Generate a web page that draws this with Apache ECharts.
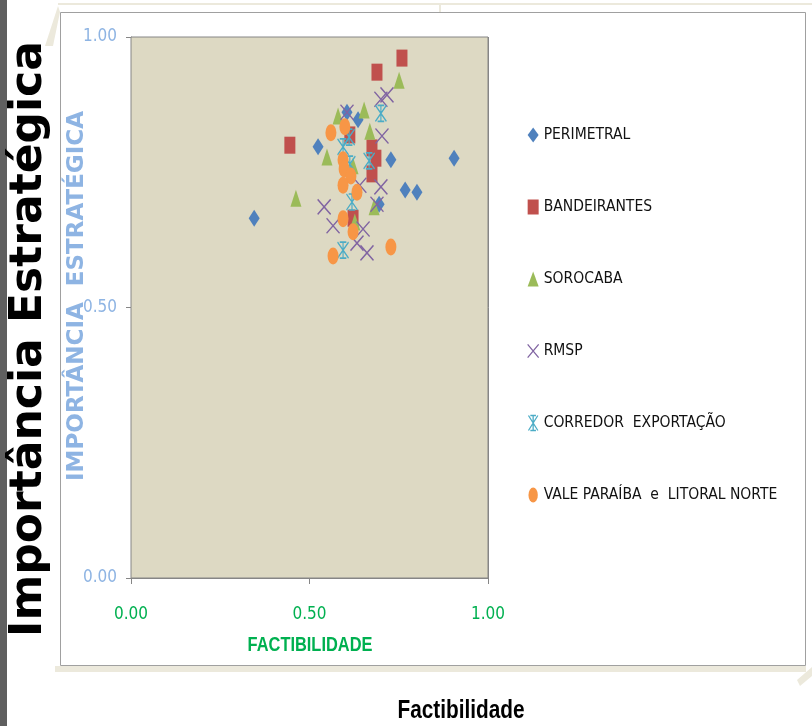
<!DOCTYPE html>
<html>
<head>
<meta charset="utf-8">
<script src="https://cdn.jsdelivr.net/npm/echarts@6/dist/echarts.min.js"></script>
<style>
html,body{margin:0;padding:0;background:#fff;}
#chart{width:812px;height:726px;}
</style>
</head>
<body>
<div id="chart"></div>
<script>
// ---- data (x = Factibilidade, y = Importância Estratégica) ----
const seriesNames = ['PERIMETRAL', 'BANDEIRANTES', 'SOROCABA', 'RMSP', 'CORREDOR  EXPORTAÇÃO', 'VALE PARAÍBA  e  LITORAL NORTE'];
const perimetral = [[0.345,0.665],[0.524,0.797],[0.605,0.861],[0.636,0.847],[0.728,0.773],[0.768,0.717],[0.801,0.713],[0.905,0.776],[0.695,0.691]];
const bandeirantes = [[0.445,0.800],[0.689,0.935],[0.759,0.961],[0.613,0.819],[0.675,0.795],[0.686,0.776],[0.675,0.747],[0.622,0.665]];
const sorocaba = [[0.462,0.702],[0.751,0.920],[0.580,0.854],[0.653,0.865],[0.669,0.826],[0.549,0.778],[0.622,0.762],[0.681,0.686],[0.627,0.658]];
const rmsp = [[0.605,0.861],[0.700,0.885],[0.717,0.893],[0.703,0.817],[0.700,0.723],[0.641,0.726],[0.541,0.686],[0.566,0.651],[0.650,0.645],[0.633,0.619],[0.661,0.601],[0.689,0.691]];
const corredor = [[0.700,0.859],[0.611,0.815],[0.594,0.797],[0.667,0.771],[0.613,0.765],[0.619,0.695],[0.594,0.606]];
const vale = [[0.560,0.823],[0.599,0.834],[0.594,0.773],[0.597,0.756],[0.616,0.743],[0.594,0.726],[0.633,0.713],[0.594,0.664],[0.622,0.640],[0.566,0.595],[0.728,0.612]];
const axisTicks = [0, 0.5, 1];

const colors = ['#4f81bd', '#c0504d', '#9bbb59', '#8064a2', '#4bacc6', '#f79646'];
const symX = 'path://M0,0L10,12M10,0L0,12';
const symStar = 'path://M0,0L10,16M10,0L0,16M5,0L5,16M2,0L8,0M2,16L8,16';
const symEllipse = 'path://M0,8A5,8 0 1,1 10,8A5,8 0 1,1 0,8Z';
const condFont = '"Liberation Sans Narrow", "DejaVu Sans Condensed", "Liberation Sans", sans-serif';

const chart = echarts.init(document.getElementById('chart'), null, {renderer: 'canvas'});

function filled(name, data, color, symbol, size) {
  return {
    name: name, type: 'scatter', data: data, symbol: symbol, symbolSize: size,
    itemStyle: {color: color, opacity: 1}, emphasis: {disabled: true}, animation: false
  };
}
function stroked(name, data, color, symbol, size) {
  return {
    name: name, type: 'scatter', data: data, symbol: symbol, symbolSize: size,
    itemStyle: {color: 'rgba(0,0,0,0)', borderColor: color, borderWidth: 1.4, opacity: 1},
    emphasis: {disabled: true}, animation: false
  };
}

const option = {
  animation: false,
  backgroundColor: '#ffffff',
  graphic: [
    {type: 'rect', shape: {x: 0, y: 0, width: 7, height: 726}, style: {fill: '#5f5f5f'}, z: 0},
    {type: 'line', shape: {x1: 58, y1: 4, x2: 812, y2: 4}, style: {stroke: '#ece9dc', lineWidth: 2}, z: 0},
    {type: 'line', shape: {x1: 440, y1: 4, x2: 440, y2: 12}, style: {stroke: '#ece9dc', lineWidth: 2}, z: 0},
    {type: 'polygon', shape: {points: [[45, 46], [58, 6], [60, 12], [53, 46]]}, style: {fill: '#ece9dc'}, z: 0},
    {type: 'rect', shape: {x: 55, y: 666, width: 751, height: 6}, style: {fill: '#ece9dc'}, z: 0},
    {type: 'polygon', shape: {points: [[797, 680], [812, 667], [812, 676], [800, 686]]}, style: {fill: '#ece9dc'}, z: 0},
    {type: 'rect', shape: {x: 60.5, y: 12.5, width: 745, height: 653}, style: {fill: '#ffffff', stroke: '#a0a0a0', lineWidth: 1}, z: 0},
    {type: 'text', x: 30, y: 339, rotation: Math.PI / 2,
      style: {text: 'Importância Estratégica', font: 'bold 44px "DejaVu Sans"', fill: '#000000', align: 'center', verticalAlign: 'middle'}, z: 5},
    {type: 'text', x: 77, y: 296, rotation: Math.PI / 2,
      style: {text: 'IMPORTÂNCIA  ESTRATÉGICA', font: 'bold 23px "DejaVu Sans"', fill: '#8eb4e3', align: 'center', verticalAlign: 'middle'}, z: 5},
    {type: 'text', x: 310, y: 645, scaleX: 0.82,
      style: {text: 'FACTIBILIDADE', font: 'bold 20px "Liberation Sans"', fill: '#00b050', align: 'center', verticalAlign: 'middle'}, z: 5},
    {type: 'text', x: 461, y: 711, scaleX: 0.8,
      style: {text: 'Factibilidade', font: 'bold 26px "Liberation Sans"', fill: '#000000', align: 'center', verticalAlign: 'middle'}, z: 5}
  ],
  grid: {
    left: 131, right: 324, top: 37, bottom: 148,
    show: true, backgroundColor: '#ddd9c3', borderColor: '#868686', borderWidth: 1, z: 2
  },
  xAxis: {
    type: 'value', min: 0, max: 1, interval: 0.5,
    axisLine: {show: true, lineStyle: {color: '#868686', width: 1}},
    axisTick: {show: true, length: 6, inside: false, lineStyle: {color: '#868686'}},
    splitLine: {show: true, lineStyle: {color: '#868686', width: 1}},
    axisLabel: {
      color: '#00b050', fontFamily: condFont, fontSize: 17, margin: 28,
      formatter: function (v) { return axisTicks.indexOf(v) >= 0 ? v.toFixed(2) : ''; }
    }
  },
  yAxis: {
    type: 'value', min: 0, max: 1, interval: 0.5,
    axisLine: {show: true, lineStyle: {color: '#868686', width: 1}},
    axisTick: {show: true, length: 5, inside: false, lineStyle: {color: '#868686'}},
    splitLine: {show: true, lineStyle: {color: '#868686', width: 1}},
    axisLabel: {
      color: '#8eb4e3', fontFamily: condFont, fontSize: 17, margin: 14,
      formatter: function (v) { return axisTicks.indexOf(v) >= 0 ? v.toFixed(2) : ''; }
    }
  },
  legend: {
    orient: 'vertical', left: 522, top: 121,
    itemWidth: 11, itemHeight: 15, itemGap: 54, itemTextGap: 4,
    selectedMode: false,
    textStyle: {fontFamily: condFont, fontSize: 15.5, color: '#111111', lineHeight: 18},
    data: [
      {name: seriesNames[0], icon: 'diamond', itemStyle: {color: colors[0], borderWidth: 0}},
      {name: seriesNames[1], icon: 'rect', itemStyle: {color: colors[1], borderWidth: 0}},
      {name: seriesNames[2], icon: 'triangle', itemStyle: {color: colors[2], borderWidth: 0}},
      {name: seriesNames[3], icon: symX, itemStyle: {color: 'rgba(0,0,0,0)', borderColor: colors[3], borderWidth: 1.3}},
      {name: seriesNames[4], icon: symStar, itemStyle: {color: 'rgba(0,0,0,0)', borderColor: colors[4], borderWidth: 1.3}},
      {name: seriesNames[5], icon: symEllipse, itemStyle: {color: colors[5], borderWidth: 0}}
    ]
  },
  series: [
    filled(seriesNames[0], perimetral, colors[0], 'diamond', [11, 17]),
    filled(seriesNames[1], bandeirantes, colors[1], 'rect', [11, 17]),
    filled(seriesNames[2], sorocaba, colors[2], 'triangle', [11, 17]),
    stroked(seriesNames[3], rmsp, colors[3], symX, [13, 15]),
    stroked(seriesNames[4], corredor, colors[4], symStar, [11, 16]),
    filled(seriesNames[5], vale, colors[5], symEllipse, [11, 17])
  ]
};
chart.setOption(option);
</script>
</body>
</html>
